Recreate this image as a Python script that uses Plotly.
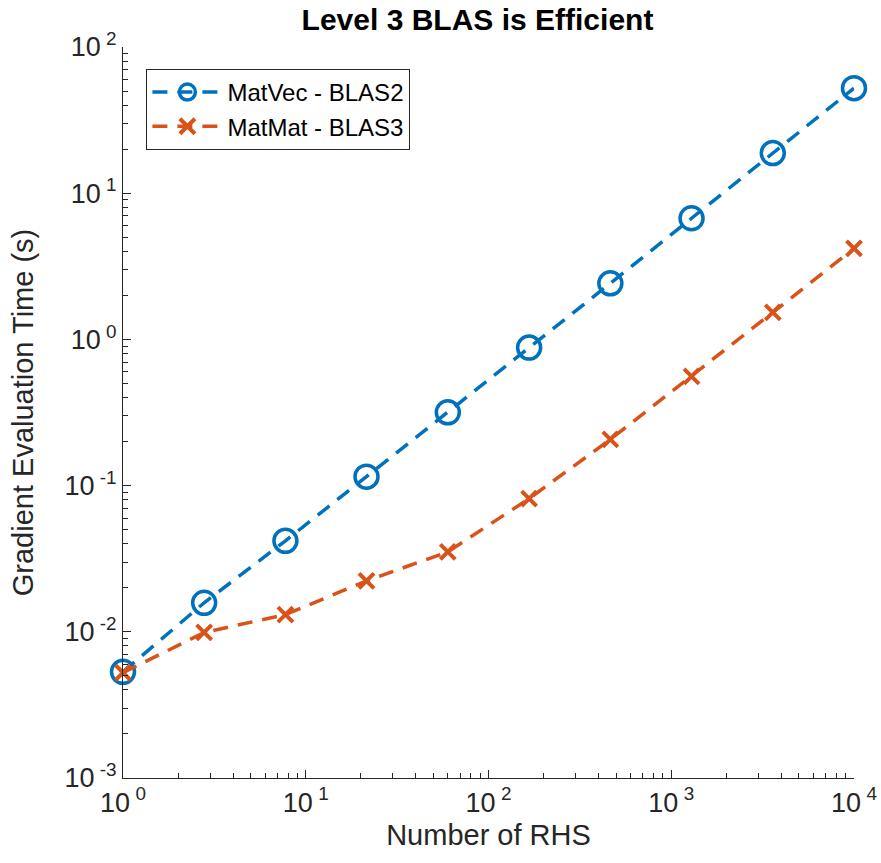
import numpy as np
import plotly.graph_objects as go

n_rhs = [1, 2.78, 7.74, 21.5, 59.9, 166.8, 464.2, 1291.5, 3593.8, 10000]
matvec = [0.00532, 0.0158, 0.0419, 0.115, 0.317, 0.88, 2.42, 6.74, 18.8, 52.3]
matmat = [0.00525, 0.0099, 0.0131, 0.0223, 0.0352, 0.0815, 0.207, 0.558, 1.53, 4.19]

x_tickvals = [1, 10, 100, 1000, 10000]
x_exps = ["0", "1", "2", "3", "4"]
y_tickvals = [1e-3, 1e-2, 1e-1, 1, 10, 100]
y_exps = ["-3", "-2", "-1", "0", "1", "2"]


def pow_label(e):
    return '10<sup> ' + e + '</sup>'


x_ticktext = [pow_label(e) for e in x_exps]
y_ticktext = [pow_label(e) for e in y_exps]

x_minor = [m * 10 ** k for k in range(0, 4) for m in range(2, 10)]
y_minor = [m * 10.0 ** k for k in range(-3, 2) for m in range(2, 10)]

blue = "#0072BD"
orange = "#D95319"

fig = go.Figure()
fig.add_trace(go.Scatter(
    x=n_rhs, y=matvec, name="MatVec - BLAS2", mode="lines+markers", cliponaxis=False,
    line=dict(color=blue, width=3.5, dash="15px,10px"),
    marker=dict(symbol="circle-open", size=23, color=blue, line=dict(width=3.5, color=blue)),
))
fig.add_trace(go.Scatter(
    x=n_rhs, y=matmat, name="MatMat - BLAS3", mode="lines+markers", cliponaxis=False,
    line=dict(color=orange, width=3.5, dash="15px,10px"),
    marker=dict(symbol="x-thin-open", size=15, color=orange, line=dict(width=4, color=orange)),
))

axis_color = "#262626"
fig.update_layout(
    width=881, height=863,
    margin=dict(l=123, r=27, t=47, b=85),
    plot_bgcolor="white", paper_bgcolor="white",
    font=dict(family="Liberation Sans, Arial, sans-serif", color=axis_color, size=22),
    title=dict(text="<b>Level 3 BLAS is Efficient</b>", x=0.542, xanchor="center", y=0.977, yanchor="middle",
               font=dict(size=30, color="black")),
    showlegend=True,
    legend=dict(x=0.032, y=0.97, xanchor="left", yanchor="top",
                bgcolor="white", bordercolor=axis_color, borderwidth=1,
                font=dict(size=24, color="black"), itemwidth=70, tracegroupgap=0),
    xaxis=dict(type="log", range=[0, 4], tickvals=x_tickvals, ticktext=x_ticktext,
               automargin=False,
               showline=True, linecolor=axis_color, linewidth=1.2, mirror=False,
               ticks="inside", ticklen=8, tickcolor=axis_color, showgrid=False, zeroline=False,
               minor=dict(tickmode="array", tickvals=x_minor, ticks="inside", ticklen=5,
                          tickcolor=axis_color, showgrid=False),
               title=dict(text="Number of RHS", font=dict(size=29), standoff=8),
               tickfont=dict(size=27)),
    yaxis=dict(type="log", range=[-3, 2], tickvals=y_tickvals, ticktext=y_ticktext,
               automargin=False,
               showline=True, linecolor=axis_color, linewidth=1.2, mirror=False,
               ticks="inside", ticklen=8, tickcolor=axis_color, showgrid=False, zeroline=False,
               minor=dict(tickmode="array", tickvals=y_minor, ticks="inside", ticklen=5,
                          tickcolor=axis_color, showgrid=False),
               title=dict(text="Gradient Evaluation Time (s)", font=dict(size=29), standoff=22),
               tickfont=dict(size=27)),
)
fig.write_html("out.html")
